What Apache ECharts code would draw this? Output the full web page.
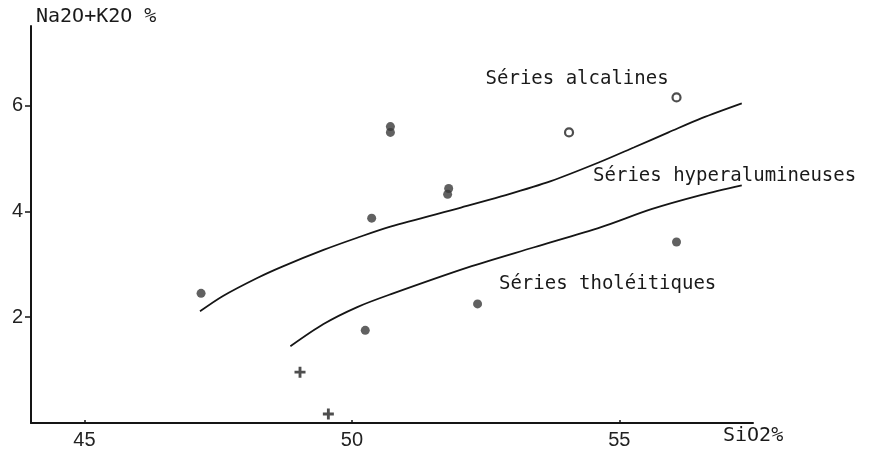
<!DOCTYPE html>
<html>
<head>
<meta charset="utf-8">
<script src="https://cdn.jsdelivr.net/npm/echarts@6.0.0/dist/echarts.min.js"></script>
<style>
html,body{margin:0;padding:0;background:#fff;}
#c{width:870px;height:450px;}
</style>
</head>
<body>
<div id="c"></div>
<script>
// ---- data (SiO2 %, Na2O+K2O %) ----
const xTicks = [45, 50, 55];
const yTicks = [2, 4, 6];

const filledSiO2 = [47.18, 50.37, 50.72, 50.72, 51.81, 51.79, 50.25, 52.35, 56.07];
const filledAlk  = [2.45, 3.87, 5.60, 5.49, 4.43, 4.32, 1.75, 2.25, 3.42];

const openSiO2 = [54.06, 56.07];
const openAlk  = [5.49, 6.15];

const crossSiO2 = [49.03, 49.56];
const crossAlk  = [0.96, 0.17];

// boundary alcaline / hyperalumineuse
const upperSiO2 = [47.16, 47.59, 48.23, 48.71, 49.47, 50.10, 50.72, 52.04, 52.79, 53.72, 54.66, 55.28, 55.92, 56.54, 57.29];
const upperAlk  = [2.11, 2.40, 2.74, 2.96, 3.27, 3.50, 3.71, 4.07, 4.28, 4.57, 4.94, 5.21, 5.49, 5.76, 6.04];

// boundary hyperalumineuse / tholéitique
const lowerSiO2 = [48.85, 49.47, 50.10, 50.72, 52.17, 53.41, 54.66, 55.60, 56.54, 57.29];
const lowerAlk  = [1.45, 1.87, 2.19, 2.43, 2.94, 3.32, 3.70, 4.04, 4.31, 4.49];

const labelTexts = ['Séries alcalines', 'Séries hyperalumineuses', 'Séries tholéitiques'];
const labelSiO2  = [52.50, 54.51, 52.75];
const labelAlk   = [6.49, 4.66, 2.62];

const yName = 'Na2O+K2O %';
const xName = 'SiO2%';

// ---- build ----
const zip = (a, b) => a.map((v, i) => [v, b[i]]);
const ink = '#151515';
const dot = '#3a3a3a';
const monoFont = '"DejaVu Sans Mono", monospace';
const sansFont = '"Liberation Sans", Arial, sans-serif';

const chart = echarts.init(document.getElementById('c'), null, {renderer: 'canvas'});

const option = {
  backgroundColor: '#ffffff',
  animation: false,
  grid: {left: 31, right: 117, top: 26, bottom: 26, containLabel: false},
  xAxis: {
    type: 'value', min: 44, max: 57.5,
    axisLine: {show: true, onZero: false, lineStyle: {color: ink, width: 2}},
    axisTick: {show: true, inside: true, length: 3, customValues: xTicks, lineStyle: {color: ink, width: 1.5}},
    axisLabel: {show: true, margin: 7, customValues: xTicks, color: '#222', fontSize: 20, fontFamily: sansFont},
    splitLine: {show: false}
  },
  yAxis: {
    type: 'value', min: 0, max: 7.5,
    axisLine: {show: true, onZero: false, lineStyle: {color: ink, width: 2}},
    axisTick: {show: true, inside: false, length: 6, customValues: yTicks, lineStyle: {color: ink, width: 1.5}},
    axisLabel: {show: true, margin: 8, customValues: yTicks, color: '#222', fontSize: 20, fontFamily: sansFont},
    splitLine: {show: false}
  },
  series: [
    {
      type: 'line', data: zip(upperSiO2, upperAlk), smooth: 0.3, showSymbol: false,
      lineStyle: {color: ink, width: 1.8}, silent: true
    },
    {
      type: 'line', data: zip(lowerSiO2, lowerAlk), smooth: 0.3, showSymbol: false,
      lineStyle: {color: ink, width: 1.8}, silent: true
    },
    {
      type: 'scatter', data: zip(filledSiO2, filledAlk), symbol: 'circle', symbolSize: 9,
      itemStyle: {color: dot}
    },
    {
      type: 'scatter', data: zip(openSiO2, openAlk), symbol: 'circle', symbolSize: 8,
      itemStyle: {color: '#fff', borderColor: '#222', borderWidth: 2.2}
    },
    {
      type: 'scatter', data: zip(crossSiO2, crossAlk),
      symbol: 'path://M-1.3,-5H1.3V-1.3H5V1.3H1.3V5H-1.3V1.3H-5V-1.3H-1.3Z', symbolSize: 11,
      itemStyle: {color: '#222'}
    }
  ]
};
chart.setOption(option);

// texts placed from data coordinates
const graphics = labelTexts.map((t, i) => {
  const p = chart.convertToPixel({gridIndex: 0}, [labelSiO2[i], labelAlk[i]]);
  return {
    type: 'text', x: p[0], y: p[1],
    style: {text: t, fill: '#1a1a1a', font: '19px ' + monoFont, textAlign: 'left', textVerticalAlign: 'middle'}
  };
});
const yTop = chart.convertToPixel({gridIndex: 0}, [44, 7.5]);
graphics.push({
  type: 'text', x: yTop[0] + 5, y: yTop[1] - 9,
  style: {text: yName, fill: '#1a1a1a', font: '20px ' + monoFont, textAlign: 'left', textVerticalAlign: 'middle'}
});
const xEnd = chart.convertToPixel({gridIndex: 0}, [57.5, 0]);
graphics.push({
  type: 'text', x: xEnd[0] - 30, y: xEnd[1] + 13,
  style: {text: xName, fill: '#1a1a1a', font: '20px ' + monoFont, textAlign: 'left', textVerticalAlign: 'middle'}
});
chart.setOption({graphic: graphics});
</script>
</body>
</html>
